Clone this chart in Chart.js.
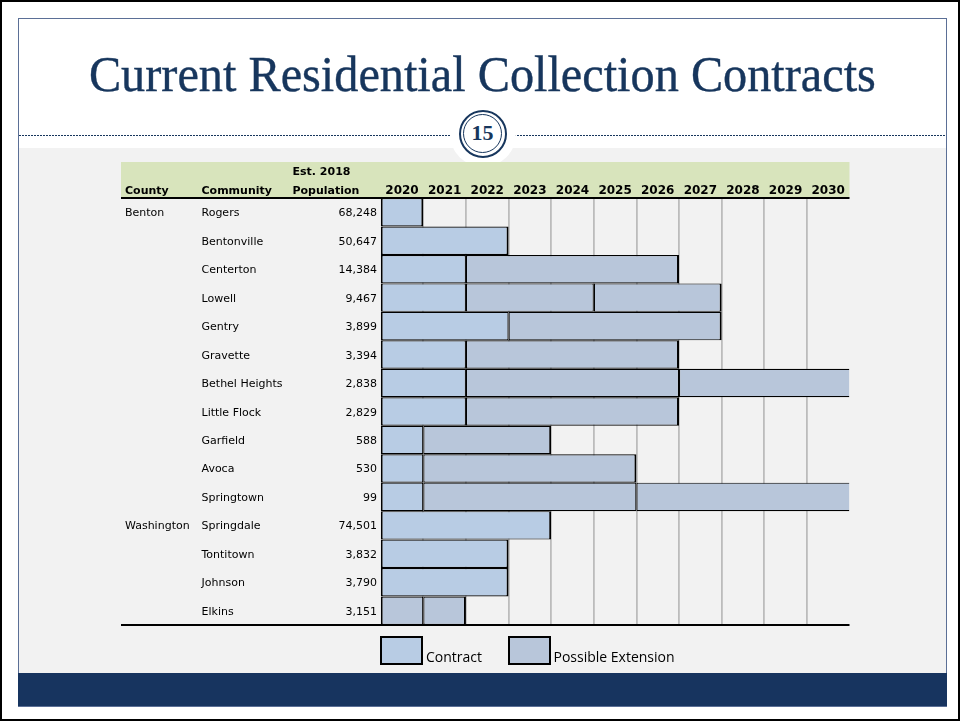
<!DOCTYPE html>
<html><head><meta charset="utf-8">
<script src="https://cdn.jsdelivr.net/npm/chart.js@4.4.1/dist/chart.umd.min.js"></script>
<style>
html,body{margin:0;padding:0;background:#fff;}
body{width:960px;height:721px;position:relative;overflow:hidden;}
#outer{position:absolute;left:0;top:0;width:960px;height:721px;border:2px solid #000;box-sizing:border-box;}
#frame{position:absolute;left:18px;top:18px;width:929px;height:689px;border:1px solid #5b6f96;box-sizing:border-box;}
#panel{position:absolute;left:19px;top:148px;width:927px;height:525px;background:#f2f2f2;}
#navy{position:absolute;left:18px;top:673px;width:929px;height:33px;background:#17345f;}
#rule{position:absolute;left:19px;top:135px;width:927px;height:1px;background:repeating-linear-gradient(90deg,#17365d 0 2px,transparent 2px 3px);}
#badge{position:absolute;left:449.5px;top:100.5px;width:66px;height:66px;border-radius:50%;background:#fff;}
#ring1{position:absolute;left:458.5px;top:109.5px;width:48px;height:48px;border-radius:50%;border:2px solid #17365d;box-sizing:border-box;}
#ring2{position:absolute;left:463px;top:114px;width:39px;height:39px;border-radius:50%;border:1.5px solid #17365d;box-sizing:border-box;}
#num{position:absolute;left:452.5px;top:121.6px;width:60px;text-align:center;font:bold 22px "Liberation Serif";line-height:22px;color:#17365d;}
#titlewrap{position:absolute;left:0;top:49px;width:965px;text-align:center;line-height:1;}
#title{display:inline-block;font-family:"Liberation Serif";font-size:50.6px;color:#17365d;white-space:nowrap;transform-origin:50% 50%;-webkit-text-stroke:0.4px #17365d;}
canvas#c{position:absolute;left:0;top:0;}
.lgbox{position:absolute;width:43px;height:29px;border:2px solid #000;box-sizing:border-box;}
.lgtxt{position:absolute;font:14px "Open Sans";line-height:14px;color:#000;white-space:nowrap;}
</style>
</head>
<body>
<div id="outer"></div>
<div id="frame"></div>
<div id="panel"></div>
<div id="navy"></div>
<div id="rule"></div>
<div id="titlewrap"><span id="title">Current Residential Collection Contracts</span></div>
<div id="badge"></div>
<div id="ring1"></div>
<div id="ring2"></div>
<div id="num">15</div>
<canvas id="c" width="960" height="721" style="width:960px;height:721px"></canvas>
<div id="legend"></div>
<script>
// ---------- data ----------
const counties = ["Benton","","","","","","","","","","","Washington","","",""];
const communities = ["Rogers","Bentonville","Centerton","Lowell","Gentry","Gravette","Bethel Heights","Little Flock","Garfield","Avoca","Springtown","Springdale","Tontitown","Johnson","Elkins"];
const population = [68248,50647,14384,9467,3899,3394,2838,2829,588,530,99,74501,3832,3790,3151];
const years = [2020,2021,2022,2023,2024,2025,2026,2027,2028,2029,2030];
const headers = {county:"County", community:"Community", popTop:"Est. 2018", popBottom:"Population"};
// contract term [startYear, endYear) per community
const contractTerm = [[2020,2021],[2020,2023],[2020,2022],[2020,2022],[2020,2023],[2020,2022],[2020,2022],[2020,2022],[2020,2021],[2020,2021],[2020,2021],[2020,2024],[2020,2023],[2020,2023],null];
// possible extensions
const extensionA = [null,null,[2022,2027],[2022,2025],[2023,2028],[2022,2027],[2022,2027],[2022,2027],[2021,2024],[2021,2026],[2021,2026],null,null,null,[2020,2021]];
const extensionB = [null,null,null,[2025,2028],null,null,[2027,2031],null,null,null,[2026,2031],null,null,null,[2021,2022]];
const seriesLabels = ["Contract","Possible Extension","Possible Extension"];

// ---------- styles ----------
const CONTRACT = "#b8cce4";
const EXTENSION = "#b8c6da";
const HEADER_BG = "#d8e4bc";
const GRID = "#bcbcbc";
const X_MIN = 2020, X_MAX = 2031;
const L = {tableLeft:121, headerTop:162, colCounty:125, colCommunity:201.5, colPop:292.5, popRight:377,
           estBaseline:175, headBaseline:193.5, rowBaselineOffset:4};

// title fit
(function(){
  const t=document.getElementById('title');
  const w=t.getBoundingClientRect().width;
  t.style.transform='scaleX('+(787/w)+')';
})();

const series = [contractTerm, extensionA, extensionB];
function segBorder(ctx){
  const i = ctx.dataIndex, d = ctx.datasetIndex;
  if (i === undefined) return 1;
  const seg = series[d][i];
  if (!seg) return 0;
  const first = !series.slice(0,d).some(s => s[i]);
  const last = !series.slice(d+1).some(s => s[i]);
  return {top:1.2, bottom:1.2, left: first ? 2 : 1.2, right: last ? (seg[1] >= X_MAX ? 0 : 2) : 1.2};
}

const tablePlugin = {
  id:'table',
  beforeDraw(chart){
    const {ctx, chartArea:a} = chart;
    ctx.save();
    ctx.fillStyle = HEADER_BG;
    ctx.fillRect(L.tableLeft, L.headerTop, a.right - L.tableLeft, a.top - L.headerTop);
    ctx.restore();
  },
  afterDatasetsDraw(chart){
    const {ctx, chartArea:a, scales:{x, y}} = chart;
    ctx.save();
    ctx.fillStyle = "#000";
    ctx.strokeStyle = "#000";
    // header
    ctx.font = "bold 11px 'DejaVu Sans'";
    ctx.textBaseline = "alphabetic";
    ctx.textAlign = "left";
    ctx.fillText(headers.county, L.colCounty, L.headBaseline);
    ctx.fillText(headers.community, L.colCommunity, L.headBaseline);
    ctx.fillText(headers.popTop, L.colPop, L.estBaseline);
    ctx.fillText(headers.popBottom, L.colPop, L.headBaseline);
    ctx.font = "bold 12px 'DejaVu Sans'";
    ctx.textAlign = "center";
    years.forEach(yr => ctx.fillText(String(yr), x.getPixelForValue(yr + 0.5), L.headBaseline));
    // rows
    ctx.font = "11px 'DejaVu Sans'";
    communities.forEach((name, i) => {
      const yy = y.getPixelForValue(i) + L.rowBaselineOffset;
      ctx.textAlign = "left";
      if (counties[i]) ctx.fillText(counties[i], L.colCounty, yy);
      ctx.fillText(name, L.colCommunity, yy);
      ctx.textAlign = "right";
      ctx.fillText(population[i].toLocaleString('en-US'), L.popRight, yy);
    });
    // rules
    ctx.lineWidth = 2;
    ctx.beginPath();
    ctx.moveTo(L.tableLeft, a.top); ctx.lineTo(a.right, a.top);
    ctx.moveTo(L.tableLeft, a.bottom); ctx.lineTo(a.right, a.bottom);
    ctx.stroke();
    ctx.restore();
  }
};

const chart = new Chart(document.getElementById('c'), {
  type:'bar',
  data:{
    labels: communities,
    datasets: series.map((s, k) => ({
      label: seriesLabels[k],
      data: s,
      backgroundColor: k === 0 ? CONTRACT : EXTENSION
    }))
  },
  options:{
    indexAxis:'y',
    responsive:false,
    animation:false,
    devicePixelRatio:1,
    layout:{padding:{left:380.7, right:110.5, top:198, bottom:96}},
    plugins:{legend:{display:false}, tooltip:{enabled:false}},
    datasets:{bar:{grouped:false, categoryPercentage:1, barPercentage:1, borderColor:"#000", borderSkipped:false, borderWidth:segBorder, inflateAmount:0}},
    scales:{
      x:{type:'linear', min:X_MIN, max:X_MAX, position:'top',
         ticks:{display:false, stepSize:1},
         grid:{drawTicks:false, lineWidth:1.8, color: c => (c.tick && (c.tick.value === X_MIN || c.tick.value === X_MAX)) ? 'rgba(0,0,0,0)' : GRID},
         border:{display:false}},
      y:{display:false}
    }
  },
  plugins:[tablePlugin]
});

// legend (HTML) from dataset labels & colours
(function(){
  const lg = document.getElementById('legend');
  const seen = new Set();
  const items = [];
  chart.data.datasets.forEach(ds => { if(!seen.has(ds.label)){ seen.add(ds.label); items.push({text:ds.label, color:ds.backgroundColor}); } });
  const boxLefts = [380, 507.5];
  items.forEach((it, k) => {
    const b = document.createElement('div');
    b.className='lgbox'; b.style.left = boxLefts[k]+'px'; b.style.top='636px'; b.style.background = it.color;
    const t = document.createElement('div');
    t.className='lgtxt'; t.style.left = (boxLefts[k]+46)+'px'; t.style.top='649.6px'; t.textContent = it.text;
    lg.appendChild(b); lg.appendChild(t);
  });
})();
</script>
</body></html>
